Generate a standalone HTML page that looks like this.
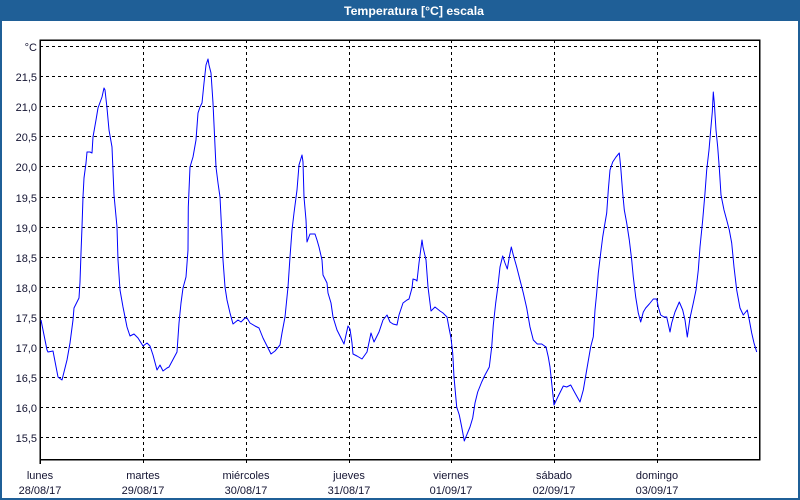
<!DOCTYPE html>
<html><head><meta charset="utf-8"><style>
html,body{margin:0;padding:0;background:#fff;}
svg{display:block;}
text{font-family:"Liberation Sans",Tahoma,sans-serif;font-size:11px;fill:#141432;}
</style></head><body>
<svg width="800" height="500" viewBox="0 0 800 500" xmlns="http://www.w3.org/2000/svg">
<rect x="0" y="0" width="800" height="500" fill="#ffffff"/>
<rect x="0" y="0" width="800" height="21" fill="#1f5f97"/>
<rect x="0" y="0" width="2" height="500" fill="#1f5f97"/>
<rect x="798" y="0" width="2" height="500" fill="#1f5f97"/>
<rect x="0" y="498" width="800" height="2" fill="#1f5f97"/>
<text x="344" y="15" style="font-weight:bold;font-size:11.5px;fill:#ffffff" textLength="140" lengthAdjust="spacingAndGlyphs">Temperatura [°C] escala</text>

<g stroke="#000" stroke-width="1" stroke-dasharray="3,3" fill="none">
<line x1="40" y1="46.5" x2="760" y2="46.5"/>
<line x1="40" y1="76.5" x2="760" y2="76.5"/>
<line x1="40" y1="106.5" x2="760" y2="106.5"/>
<line x1="40" y1="136.5" x2="760" y2="136.5"/>
<line x1="40" y1="166.5" x2="760" y2="166.5"/>
<line x1="40" y1="197.5" x2="760" y2="197.5"/>
<line x1="40" y1="227.5" x2="760" y2="227.5"/>
<line x1="40" y1="257.5" x2="760" y2="257.5"/>
<line x1="40" y1="287.5" x2="760" y2="287.5"/>
<line x1="40" y1="317.5" x2="760" y2="317.5"/>
<line x1="40" y1="347.5" x2="760" y2="347.5"/>
<line x1="40" y1="377.5" x2="760" y2="377.5"/>
<line x1="40" y1="407.5" x2="760" y2="407.5"/>
<line x1="40" y1="437.5" x2="760" y2="437.5"/>
<line x1="143.5" y1="40" x2="143.5" y2="464"/>
<line x1="246.5" y1="40" x2="246.5" y2="464"/>
<line x1="349.5" y1="40" x2="349.5" y2="464"/>
<line x1="451.5" y1="40" x2="451.5" y2="464"/>
<line x1="554.5" y1="40" x2="554.5" y2="464"/>
<line x1="657.5" y1="40" x2="657.5" y2="464"/>
</g>
<g stroke="#000" stroke-width="1.5" fill="none">
<rect x="40.25" y="40.25" width="719.5" height="419.5"/>
<line x1="40.25" y1="460" x2="40.25" y2="464"/>
</g>

<polyline fill="none" stroke="#0000ff" stroke-width="1" stroke-linejoin="round" points="
41,320 47,350 48,352 53,351 58,377 62,380 67,360 70,343 73,320 74,308 79,298 80,282 81,253 82,227 83,197 84,178 86,163 87,152 90,152 92,153 93,137 96,120 98,108 102,97 104,88 105,90 107,108 109,130 112,147 114,195 117,227 118,260 120,290 123,307 125,317 127,327 130,336 134,334 138,338 143,346 147,343 150,346 153,355 157,370 160,365 163,371 167,368 169,367
177,352 179,323 181,303 183,288 186,277 188,250 188.3,207 190,167 193,157 196,140 198,113 200,107 202,103 204,83 206,65 208,59 209,65 211,73 213,103 216,167 218,183 220,197 222,237 223,260 225,287 227,300 230,313 233,324 238,320 241,322 245,318 247,318 250,323 255,326 259,328 263,338 271,354 275,351 280,345 282,333 285,317 288,287 290,257 292,230 294,213 297,190 299,165 302,155 303,162 304,197 306,220 307,242 310,234 315,234
317,240 319,247 322,260 323,275 327,283 328,293 331,303 333,317 337,330 341,338 344,344 346,335 348,326 350,329 352,343 353,354 357,356 362,359 367,352 371,333 374,342 379,332 383,320 387,315 390,322 393,324 397,325 399,315 403,303 407,300 409,299 412,288 413,279 416,280 417,281 419,263 422,240 423,247 426,260 428,287 431,311 435,307 440,311 443,313 447,317 449,328 451,338
452.7,353 454,377 456.7,407 459.3,415 461.7,427 464.3,441 466.7,435 470,427 472.7,418 475,403 477.7,392 481.7,382 485,375 489.3,367 491.7,347 493.3,325 495.7,303 497.7,288 500,267 502.7,256 505,263 507.3,269 509.3,257 511.3,247 513.3,255 516.7,267 520,280 523.3,293 526.7,308 530,327 533.3,340 537.3,344 541.7,344 546,347 548.3,357 550,367 551.7,383 554,405 558.3,396 563.3,386 566.7,387 570.7,385 575,393 580,402 583.3,390 586.7,370 590.7,346.7
593.3,336.7 595,310 596.7,293 598.3,273 600.7,253 602.7,237 605,223 606.7,213 608.3,190 610,170 612.7,162 616,157 619.3,153 620.7,167 622.7,193 624.3,210 626.7,223 629.3,240 631.7,260 633.3,277 635.7,297 638.3,313 640.7,322 643.3,312 645.7,308 649.3,304 653.3,299 656.7,299 658.3,307 660.7,315 664,317 666.7,317 670,332 671.7,323 675,312 679.3,302 682.7,310 685,320 687.3,337 690,318 693.3,303 696,290 698.3,270 700,247 702.7,220 705,193 706.7,170 709,150 710.7,130 712.3,112 713.3,92 714.3,103 716,130 717.7,147 719.3,168 721,195 724,210 726.7,220 729.3,230 731.7,243 734,267 736.7,290 740,308 743.3,315 747.3,310 749.3,320 751.7,333 754,343 756.7,352"/>

<g text-anchor="end">
<text x="37" y="51">°C</text>
<text x="37" y="81">21,5</text>
<text x="37" y="111">21,0</text>
<text x="37" y="141">20,5</text>
<text x="37" y="171">20,0</text>
<text x="37" y="202">19,5</text>
<text x="37" y="232">19,0</text>
<text x="37" y="262">18,5</text>
<text x="37" y="292">18,0</text>
<text x="37" y="322">17,5</text>
<text x="37" y="352">17,0</text>
<text x="37" y="382">16,5</text>
<text x="37" y="412">16,0</text>
<text x="37" y="442">15,5</text>
</g>
<g text-anchor="middle">
<text x="40" y="479">lunes</text><text x="40" y="494">28/08/17</text>
<text x="143" y="479">martes</text><text x="143" y="494">29/08/17</text>
<text x="246" y="479">miércoles</text><text x="246" y="494">30/08/17</text>
<text x="349" y="479">jueves</text><text x="349" y="494">31/08/17</text>
<text x="451" y="479">viernes</text><text x="451" y="494">01/09/17</text>
<text x="554" y="479">sábado</text><text x="554" y="494">02/09/17</text>
<text x="657" y="479">domingo</text><text x="657" y="494">03/09/17</text>
</g>
</svg>
</body></html>
